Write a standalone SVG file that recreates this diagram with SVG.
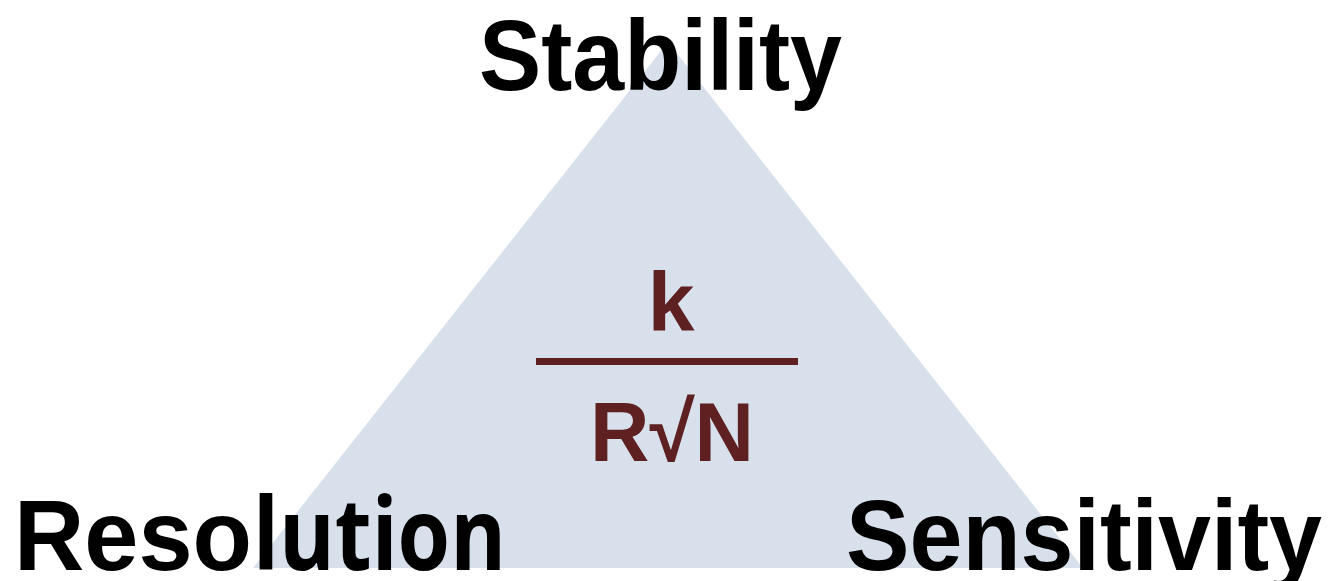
<svg xmlns="http://www.w3.org/2000/svg" width="1328" height="581" viewBox="0 0 1328 581">
<style>
.lbl{font-family:"Liberation Sans",Arial,sans-serif;font-weight:bold;font-size:101px;fill:#000}
.frac{font-family:"Liberation Sans",Arial,sans-serif;font-weight:bold;font-size:84px;fill:#5E2020}
</style>
<rect width="1328" height="581" fill="#fff"/>
<g id="triangle">
<polygon points="668,42 1083,568 253,568" fill="#D8E0EC"/>
</g>
<g id="formula">
<text class="frac" x="671" y="331" text-anchor="middle">k</text>
<line x1="536" y1="361.5" x2="798" y2="361.5" stroke="#5E2020" stroke-width="7"/>
<text class="frac" x="590" y="461" textLength="164" lengthAdjust="spacingAndGlyphs">R√N</text>
</g>
<g id="stability">
<text class="lbl" x="479" y="90" textLength="363" lengthAdjust="spacingAndGlyphs">Stability</text>
</g>
<g id="resolution">
<text class="lbl" y="570"><tspan x="14" textLength="238" lengthAdjust="spacingAndGlyphs">Reso</tspan><tspan x="253" textLength="253" lengthAdjust="spacingAndGlyphs" style="font-family:'Open Sans',sans-serif">lution</tspan></text>
</g>
<g id="sensitivity">
<text class="lbl" x="846" y="570" textLength="476" lengthAdjust="spacingAndGlyphs">Sensitivity</text>
</g>
</svg>
